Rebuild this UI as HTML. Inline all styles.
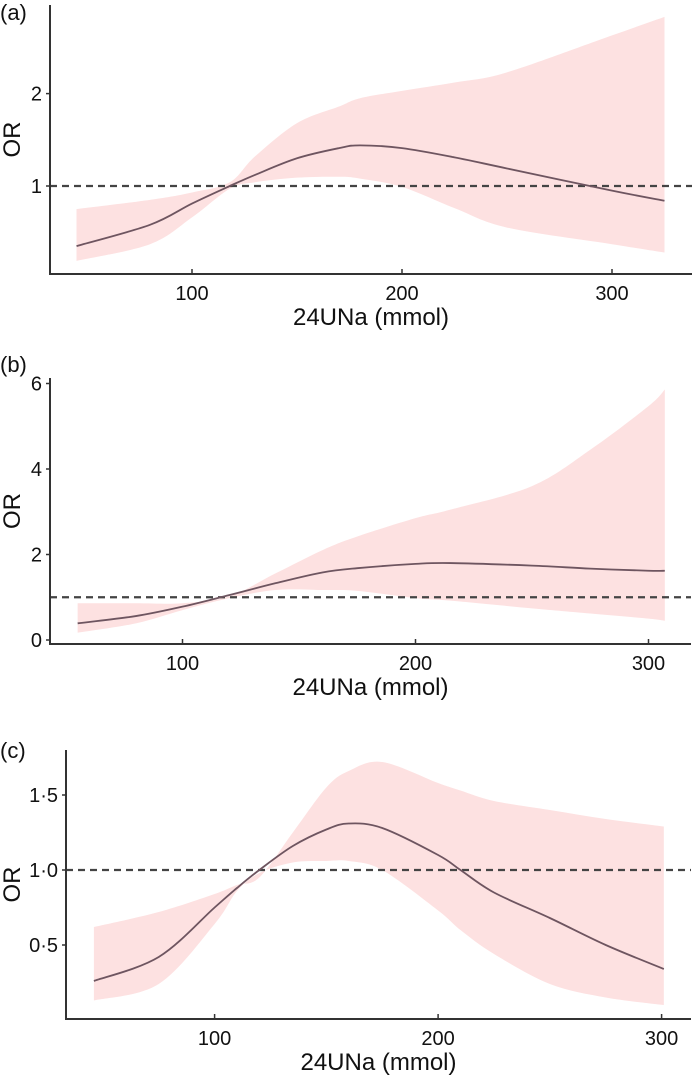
<!DOCTYPE html>
<html><head><meta charset="utf-8"><style>
html,body{margin:0;padding:0;background:#fff;}
svg{display:block;font-family:"Liberation Sans",Arial,sans-serif;}
</style></head><body>
<svg id="fig" width="694" height="1075" viewBox="0 0 694 1075"></svg>
<script>
// Panel A data
const aX=[45,80,100,118,130,150,170,180,200,225,250,300,325];
const aMid=[0.35,0.58,0.81,1.0,1.12,1.30,1.41,1.44,1.41,1.31,1.19,0.95,0.84];
const aUp=[0.75,0.85,0.93,1.04,1.32,1.68,1.86,1.95,2.03,2.12,2.23,2.63,2.83];
const aLo=[0.19,0.37,0.66,0.97,1.04,1.09,1.10,1.08,0.99,0.76,0.55,0.37,0.28];
const aYTicks=[1,2];
// Panel B data
const bX=[55,80,100,120,140,160,175,200,215,250,275,300,307];
const bMid=[0.39,0.56,0.78,1.05,1.33,1.58,1.68,1.78,1.80,1.74,1.67,1.62,1.62];
const bUp=[0.86,0.86,0.86,1.02,1.56,2.10,2.42,2.85,3.05,3.6,4.45,5.47,5.86];
const bLo=[0.17,0.39,0.70,0.98,1.17,1.17,1.15,0.98,0.92,0.74,0.62,0.50,0.45];
const bYTicks=[0,2,4,6];
// Panel C data
const cX=[46,75,100,110,120,135,150,160,175,200,210,225,250,275,301];
const cMid=[0.26,0.42,0.75,0.88,1.0,1.16,1.27,1.31,1.28,1.10,1.0,0.85,0.68,0.50,0.34];
const cUp=[0.62,0.72,0.84,0.90,0.95,1.25,1.55,1.66,1.72,1.58,1.53,1.46,1.40,1.34,1.29];
const cLo=[0.13,0.24,0.64,0.86,0.98,1.05,1.06,1.06,1.0,0.73,0.60,0.44,0.24,0.15,0.10];
const cYTicks=[0.5,1.0,1.5];
const xTicks=[100,200,300];

const NS="http://www.w3.org/2000/svg";
const svg=document.getElementById('fig');
function el(tag,attrs,parent){const e=document.createElementNS(NS,tag);for(const k in attrs)e.setAttribute(k,attrs[k]);(parent||svg).appendChild(e);return e;}
function spline(pts){let d="M"+pts[0][0]+","+pts[0][1];for(let i=0;i<pts.length-1;i++){const p0=pts[i-1]||pts[i],p1=pts[i],p2=pts[i+1],p3=pts[i+2]||p2;const c1=[p1[0]+(p2[0]-p0[0])/6,p1[1]+(p2[1]-p0[1])/6],c2=[p2[0]-(p3[0]-p1[0])/6,p2[1]-(p3[1]-p1[1])/6];d+="C"+c1+" "+c2+" "+p2;}return d;}
function splineBody(pts){return spline(pts).replace(/^M/,"L");}

function panel(cfg){
  const g=el('g',{});
  
  
  const sx=v=>cfg.x0+(v-cfg.xv0)*cfg.kx;
  const sy=v=>cfg.y0-(v-cfg.yv0)*cfg.ky;
  const up=cfg.X.map((x,i)=>[sx(x),sy(cfg.up[i])]);
  const lo=cfg.X.map((x,i)=>[sx(x),sy(cfg.lo[i])]).reverse();
  const band=el('path',{d:spline(up)+splineBody(lo)+"Z",fill:"#fde1e1",stroke:"none"},g);
  
  
  const ref=el('line',{x1:cfg.axX,x2:cfg.axEnd,y1:sy(1),y2:sy(1),stroke:"#444","stroke-width":2.2,"stroke-dasharray":"7,5"},g);
  
  
  const line=el('path',{d:spline(cfg.X.map((x,i)=>[sx(x),sy(cfg.mid[i])])),fill:"none",stroke:"#6e5560","stroke-width":1.8},g);
  
  
  const ax=el('path',{d:`M${cfg.axX},${cfg.axTop}V${cfg.axY}H${cfg.axEnd}`,fill:"none",stroke:"#333","stroke-width":2},g);
  
  
  cfg.yt.forEach(v=>{
    el('line',{x1:cfg.axX-4,x2:cfg.axX,y1:sy(v),y2:sy(v),stroke:"#333","stroke-width":1.5},g);
    const t=el('text',{x:cfg.axX-8,y:sy(v)+7,"text-anchor":"end","font-size":20,fill:"#111"},g);
    t.textContent=cfg.fmt(v);
    
    
  });
  xTicks.forEach(v=>{
    el('line',{x1:sx(v),x2:sx(v),y1:cfg.axY,y2:cfg.axY-5,stroke:"#333","stroke-width":1.5},g);
    const t=el('text',{x:sx(v),y:cfg.axY+26,"text-anchor":"middle","font-size":20,fill:"#111"},g);
    t.textContent=v;
    
    
  });
  const xl=el('text',{x:(cfg.axX+cfg.axEnd)/2,y:cfg.axY+51,"text-anchor":"middle","font-size":24,fill:"#111"},g);
  xl.textContent="24UNa (mmol)";
  
  
  const cy=(cfg.axTop+cfg.axY)/2;
  const yl=el('text',{x:12,y:cy,transform:`rotate(-90 12 ${cy})`,"text-anchor":"middle","font-size":24,fill:"#111",dy:8},g);
  yl.textContent="OR";
  
  
  const pl=el('text',{x:0,y:cfg.labY,"font-size":22,fill:"#111"},g);
  pl.textContent="("+cfg.id+")";
  
  
}
panel({id:'a',X:aX,mid:aMid,up:aUp,lo:aLo,yt:aYTicks,fmt:v=>String(v),
  x0:192,xv0:100,kx:2.1,y0:186,yv0:1,ky:92.4,axX:50,axTop:5,axY:274,axEnd:692,labY:20});
panel({id:'b',X:bX,mid:bMid,up:bUp,lo:bLo,yt:bYTicks,fmt:v=>String(v),
  x0:182.5,xv0:100,kx:2.33,y0:640,yv0:0,ky:42.75,axX:50,axTop:378,axY:644,axEnd:691,labY:372});
panel({id:'c',X:cX,mid:cMid,up:cUp,lo:cLo,yt:cYTicks,fmt:v=>v.toFixed(1).replace('.','·'),
  x0:214.6,xv0:100,kx:2.235,y0:870,yv0:1,ky:150,axX:66,axTop:750,axY:1019,axEnd:691,labY:758});
</script>
</body></html>
